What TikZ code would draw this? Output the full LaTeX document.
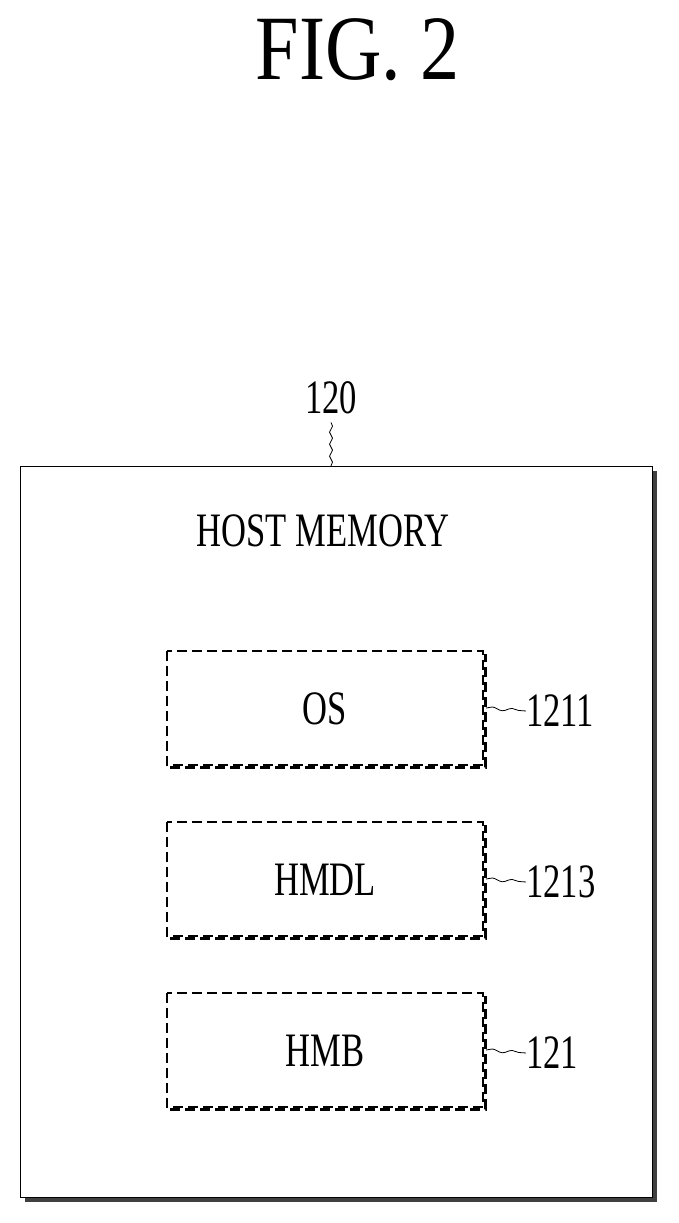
\documentclass[tikz,border=0pt]{standalone}
\usepackage{fontspec}
\setmainfont{Liberation Serif}
\usetikzlibrary{decorations.pathmorphing}
\newcommand\cnd[1]{\scalebox{0.72}[1]{#1}}
\begin{document}
\begin{tikzpicture}[x=1pt,y=-1pt,
  lbl/.style={inner sep=0pt,font=\fontsize{48}{48}\selectfont},
  dbox/.style={draw,dashed,line width=1.2pt,dash pattern=on 10pt off 5pt},
  shadowd/.style={line width=3pt,dash pattern=on 10pt off 5pt},
  sq/.style={line width=0.8pt,decorate,decoration={snake,amplitude=1.5pt,segment length=12pt}}]
\useasboundingbox (0,0) rectangle (678,1223);
\node[inner sep=0pt,font=\fontsize{92}{92}\selectfont] (title) at (358,50) {\scalebox{0.85}[1]{FIG. 2}};
% outer box with shadow
\fill[black!75] (25,471) rectangle (657,1202);
\draw[fill=white,line width=1pt] (20,466) rectangle (652,1197);
\node[lbl] (n120) at (331,398) {\cnd{120}};
\coordinate (top) at (331,466);
\draw[sq] (n120.south) ++(0,8) -- (top);
\node[lbl] (hm) at (323,531) {\cnd{HOST MEMORY}};
\foreach \nm/\t/\y/\lab in {os/OS/651/1211, hmdl/HMDL/822/1213, hmb/HMB/993/121}{
  \draw[shadowd] (170,\y+116) -- (485,\y+116) -- (485,\y+3);
  \draw[dbox,fill=white] (167,\y) rectangle (483,\y+114);
  \node[lbl] (\nm) at (325,\y+58) {\cnd{\t}};
  \node[lbl,anchor=west] (\nm l) at (526,\y+60) {\cnd{\lab}};
  \draw[sq,decoration={snake,amplitude=1.5pt,segment length=20pt}] (486,\y+57) -- (\nm l.west);
}
\end{tikzpicture}
\end{document}
